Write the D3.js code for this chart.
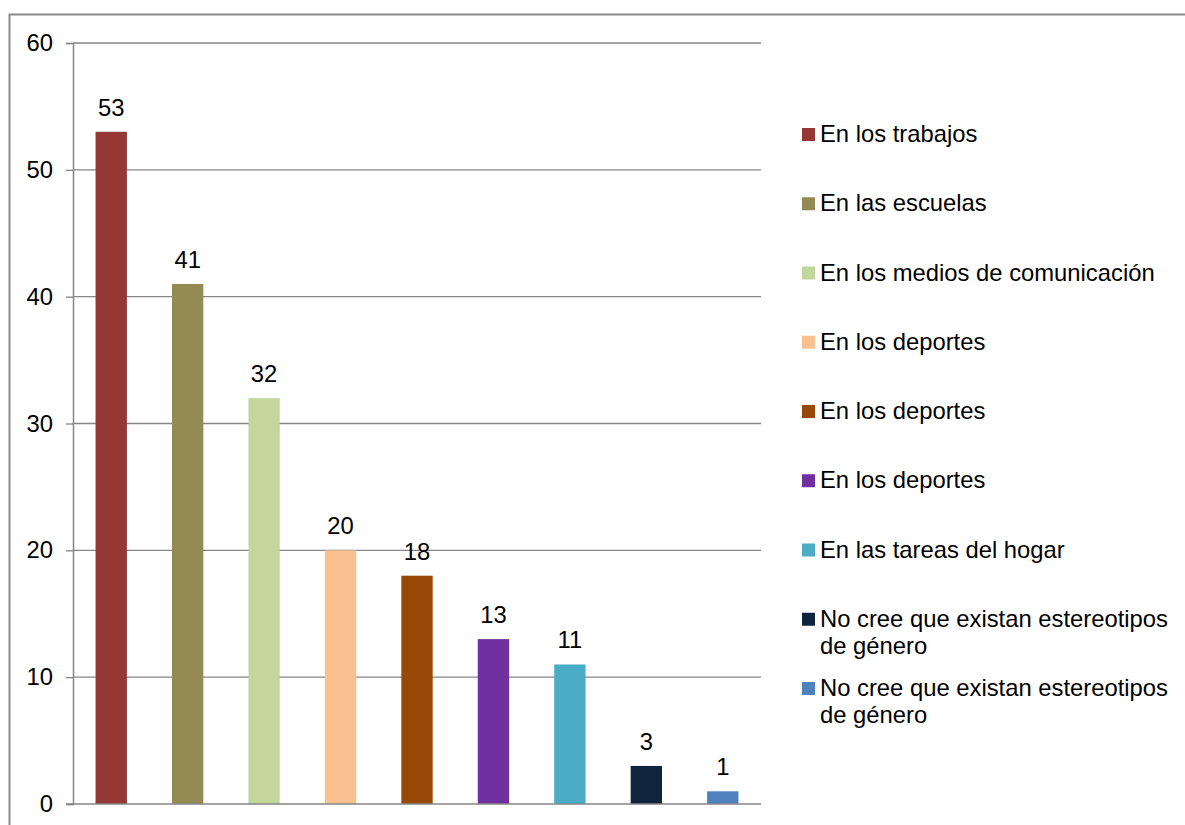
<!DOCTYPE html>
<html>
<head>
<meta charset="utf-8">
<script src="https://cdn.jsdelivr.net/npm/d3@7"></script>
<style>
  body { margin: 0; background: #fff; }
  svg { display: block; font-family: "Liberation Sans", Arial, sans-serif; }
</style>
</head>
<body>
<svg id="app" width="1185" height="825"></svg>
<script>
const categories = [
  "En los trabajos",
  "En las escuelas",
  "En los medios de comunicación",
  "En los deportes",
  "En los deportes",
  "En los deportes",
  "En las tareas del hogar",
  "No cree que existan estereotipos de género",
  "No cree que existan estereotipos de género"
];
const values = [53, 41, 32, 20, 18, 13, 11, 3, 1];
const colors = ["#953735", "#948a54", "#c3d69b", "#fac090", "#984807", "#7030a0", "#4bacc6", "#10243e", "#4f81bd"];
const yTicks = [0, 10, 20, 30, 40, 50, 60];

const svg = d3.select("#app");
const ids = d3.range(categories.length);
const fontSize = 23.8;

// outer chart border (runs off the bottom/right of the picture)
svg.append("rect")
  .attr("x", 9.5).attr("y", 14.5)
  .attr("width", 1200).attr("height", 840)
  .attr("fill", "none").attr("stroke", "#8c8c8c").attr("stroke-width", 2);

const plot = { left: 73, right: 761, top: 43, bottom: 804 };

const x = d3.scaleBand()
  .domain(ids)
  .range([plot.left, plot.right])
  .paddingInner(0.59)
  .paddingOuter(0.295);

const y = d3.scaleLinear()
  .domain([0, 60])
  .range([plot.bottom, plot.top]);

// gridlines
svg.append("g")
  .selectAll("line")
  .data(yTicks.filter(d => d > 0))
  .join("line")
  .attr("x1", plot.left).attr("x2", plot.right)
  .attr("y1", d => y(d)).attr("y2", d => y(d))
  .attr("stroke", "#868686").attr("stroke-width", 1.3);

// y axis
const yAxis = svg.append("g")
  .attr("transform", `translate(${plot.left},0)`)
  .call(d3.axisLeft(y).tickValues(yTicks).tickSize(7).tickPadding(13));
yAxis.select(".domain").attr("stroke", "#868686").attr("stroke-width", 1.5);
yAxis.selectAll(".tick line").attr("stroke", "#868686").attr("stroke-width", 1.3);
yAxis.selectAll(".tick text")
  .attr("font-size", fontSize).attr("fill", "#000")
  .attr("font-family", "Liberation Sans, Arial, sans-serif");

// bars
svg.append("g")
  .selectAll("rect")
  .data(ids)
  .join("rect")
  .attr("x", i => x(i))
  .attr("y", i => y(values[i]))
  .attr("width", x.bandwidth())
  .attr("height", i => y(0) - y(values[i]))
  .attr("fill", i => colors[i]);

// baseline
svg.append("line")
  .attr("x1", plot.left - 7).attr("x2", plot.right)
  .attr("y1", y(0)).attr("y2", y(0))
  .attr("stroke", "#868686").attr("stroke-width", 1.5);

// value labels
svg.append("g")
  .selectAll("text")
  .data(ids)
  .join("text")
  .attr("x", i => x(i) + x.bandwidth() / 2)
  .attr("y", i => y(values[i]) - 16)
  .attr("text-anchor", "middle")
  .attr("font-size", fontSize)
  .attr("fill", "#000")
  .text(i => values[i]);

// legend
const legend = svg.append("g");
const legendY = d3.scaleLinear().domain([0, 8]).range([142, 696]);
const maxWidth = 360;

ids.forEach(i => {
  const g = legend.append("g").attr("transform", `translate(0,${legendY(i)})`);
  g.append("rect")
    .attr("x", 802).attr("y", -14)
    .attr("width", 13).attr("height", 13)
    .attr("fill", colors[i]);
  const t = g.append("text")
    .attr("x", 820).attr("y", 0)
    .attr("font-size", fontSize).attr("fill", "#000");
  // simple word wrap
  const words = categories[i].split(" ");
  let line = [];
  let tspan = t.append("tspan").attr("x", 820).attr("dy", 0);
  words.forEach(w => {
    line.push(w);
    tspan.text(line.join(" "));
    if (tspan.node().getComputedTextLength() > maxWidth && line.length > 1) {
      line.pop();
      tspan.text(line.join(" "));
      line = [w];
      tspan = t.append("tspan").attr("x", 820).attr("dy", 27).text(w);
    }
  });
});
</script>
</body>
</html>
